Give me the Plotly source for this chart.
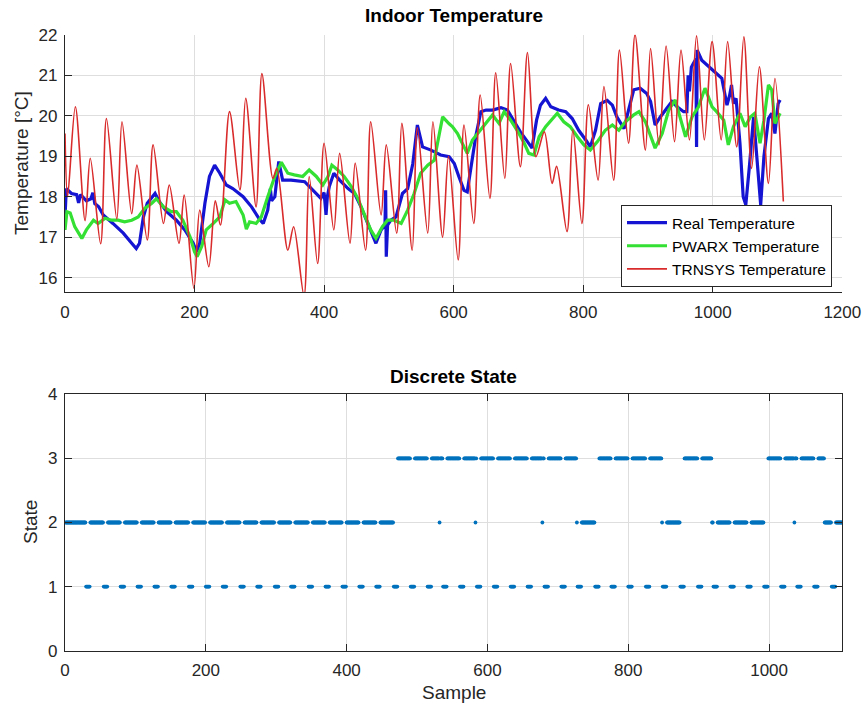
import plotly.graph_objects as go

# ---------------- data ----------------
real_x = [0, 2, 10, 18, 21, 24, 33, 40, 43, 46, 52, 59, 74, 90, 103, 110, 115, 121, 127, 133,
          139, 146, 157, 172, 185, 198, 203, 208, 216, 223, 231, 239, 249, 259, 275, 288, 300,
          306, 313, 317, 319, 324, 330, 336, 349, 370, 383, 395, 400, 403, 405, 408, 415, 424,
          437, 447, 457, 470, 480, 488, 494, 495, 496, 498, 503, 511, 521, 529, 537, 544, 552,
          565, 580, 593, 601, 608, 616, 621, 626, 634, 642, 650, 660, 673, 683, 691, 703, 714,
          721, 728, 734, 742, 750, 762, 773, 783, 793, 804, 811, 819, 827, 837, 845, 852, 863,
          870, 878, 888, 898, 904, 911, 919, 929, 937, 945, 955, 960, 962, 964, 967, 970, 974,
          975, 976, 983, 994, 1004, 1014, 1022, 1026, 1029, 1032, 1036, 1042, 1047, 1051, 1057,
          1063, 1068, 1074, 1079, 1086, 1091, 1096, 1101, 1104]
real_y = [17.5, 18.2, 18.08, 18.05, 17.85, 18.05, 17.9, 17.95, 18.1, 17.83, 17.75, 17.55, 17.34,
          17.1, 16.85, 16.72, 16.85, 17.5, 17.84, 17.95, 18.08, 17.87, 17.63, 17.42, 17.18, 16.85,
          16.64, 16.85, 17.84, 18.5, 18.78, 18.58, 18.29, 18.2, 18.0, 17.75, 17.45, 17.34, 17.67,
          18.2, 17.9, 18.0, 18.87, 18.41, 18.41, 18.37, 18.16, 17.96, 18.1, 17.55, 18.0, 18.25,
          18.58, 18.41, 18.2, 18.08, 17.75, 17.26, 16.85, 17.18, 17.3, 18.16, 16.52, 17.3, 17.42,
          17.5, 18.08, 18.2, 18.82, 19.77, 19.23, 19.15, 19.03, 18.99, 18.82, 18.5, 18.16, 18.12,
          18.66, 19.48, 20.1, 20.14, 20.14, 20.2, 20.14, 19.93, 19.6, 19.36, 19.2, 19.89, 20.26,
          20.43, 20.22, 20.14, 20.1, 19.93, 19.64, 19.4, 19.23, 19.64, 20.3, 20.38, 20.26, 19.97,
          19.68, 20.14, 20.64, 20.68, 20.55, 20.35, 19.77, 19.97, 20.18, 20.35, 20.22, 20.1, 20.1,
          21.0, 20.6, 21.2, 21.29, 21.4, 19.23, 21.62, 21.37, 21.21, 21.09, 20.92, 20.26, 20.5,
          20.76, 20.3, 20.43, 19.32, 18.0, 17.8, 18.82, 19.97, 18.99, 17.8, 18.99, 19.93, 20.06,
          19.56, 20.3, 20.39]

pwarx_x = [0, 3, 8, 15, 26, 33, 44, 51, 62, 72, 82, 92, 103, 113, 123, 134, 141, 152, 164, 172,
           182, 193, 200, 204, 211, 218, 229, 239, 247, 254, 264, 275, 280, 285, 295, 303, 313,
           324, 334, 344, 354, 367, 377, 388, 398, 406, 412, 421, 431, 442, 452, 462, 472, 480,
           490, 498, 508, 519, 529, 539, 549, 560, 570, 578, 583, 593, 598, 606, 616, 621, 629,
           639, 650, 660, 670, 678, 688, 698, 709, 716, 724, 732, 742, 752, 760, 770, 780, 791,
           801, 811, 822, 834, 845, 855, 865, 878, 886, 896, 904, 911, 922, 932, 942, 950, 958,
           968, 978, 988, 999, 1006, 1017, 1024, 1032, 1042, 1050, 1058, 1065, 1073, 1079, 1086,
           1091, 1096, 1101, 1104]
pwarx_y = [17.18, 17.63, 17.6, 17.26, 16.97, 17.18, 17.42, 17.34, 17.47, 17.42, 17.42, 17.38,
           17.42, 17.5, 17.71, 17.84, 17.95, 17.75, 17.63, 17.63, 17.42, 17.01, 16.64, 16.52,
           16.77, 17.18, 17.34, 17.5, 17.92, 17.84, 17.88, 17.55, 17.2, 17.38, 17.34, 17.5, 18.0,
           18.5, 18.85, 18.58, 18.54, 18.5, 18.66, 18.5, 18.29, 18.5, 18.78, 18.66, 18.5, 18.25,
           17.96, 17.55, 17.18, 16.97, 17.26, 17.42, 17.42, 17.34, 17.67, 18.08, 18.58, 18.78,
           18.9, 19.56, 19.97, 19.8, 19.73, 19.56, 19.23, 19.07, 19.4, 19.6, 19.85, 20.02, 19.81,
           20.1, 19.89, 19.64, 19.32, 19.07, 19.03, 19.48, 19.73, 19.93, 20.06, 19.85, 19.73,
           19.48, 19.28, 19.15, 19.36, 19.64, 19.77, 19.64, 19.85, 20.02, 20.1, 19.85, 19.48,
           19.2, 19.56, 20.14, 20.39, 19.93, 19.48, 19.97, 20.22, 20.68, 20.22, 20.1, 19.89,
           19.28, 19.73, 20.06, 19.73, 19.97, 20.06, 19.32, 19.89, 20.76, 20.64, 19.81, 19.97,
           20.06]

trnsys_x = [0, 4, 16, 31, 39, 55, 64, 80, 88, 103, 111, 127, 136, 152, 161, 176, 184, 199, 208,
            222, 232, 240, 254, 270, 279, 295, 304, 321, 327, 344, 353, 369, 377, 390, 400, 415,
            424, 440, 448, 464, 472, 488, 496, 512, 520, 536, 544, 560, 568, 583, 592, 607, 616,
            631, 641, 656, 665, 679, 688, 703, 714, 727, 740, 752, 759, 775, 784, 798, 808, 823,
            832, 847, 856, 870, 880, 896, 904, 917, 928, 941, 951, 964, 975, 987, 999, 1013,
            1023, 1037, 1048, 1060, 1072, 1086, 1096, 1109]
trnsys_y = [19.56, 18.0, 20.22, 17.41, 18.95, 16.84, 19.93, 17.45, 19.85, 17.58, 18.78, 16.93,
            19.28, 17.34, 18.29, 16.85, 18.04, 15.74, 17.67, 16.27, 17.9, 17.3, 20.1, 18.17,
            20.43, 17.75, 21.04, 18.45, 18.7, 16.68, 17.26, 15.55, 18.5, 16.35, 19.32, 17.18,
            19.07, 16.85, 18.83, 16.68, 19.85, 17.55, 19.28, 17.1, 19.81, 16.68, 19.7, 17.1,
            19.85, 17.0, 19.0, 16.44, 19.77, 17.34, 20.51, 17.96, 21.06, 18.45, 21.29, 18.74,
            21.56, 18.99, 19.6, 18.33, 18.75, 17.14, 19.65, 17.34, 20.27, 18.41, 20.72, 18.41,
            21.62, 19.32, 22.0, 19.15, 21.66, 19.28, 21.72, 19.36, 21.62, 19.4, 21.97, 19.4,
            21.83, 19.4, 21.83, 19.23, 21.95, 18.7, 21.21, 18.33, 20.92, 17.88]

# discrete state: sample count, state-1 runs, state-3 segments, isolated state-2 samples
n_samples = 1104
state1_starts = [30, 55, 79, 103, 127, 151, 176, 200, 224, 249, 273, 298, 321, 346, 370, 394,
                 418, 442, 467, 491, 515, 537, 561, 585, 609, 633, 657, 681, 705, 728, 753, 776,
                 800, 825, 849, 874, 899, 921, 945, 969, 993, 1017, 1040, 1064, 1089]
state1_len = 6
state3_segments = [(470, 726), (759, 847), (878, 918), (998, 1078)]
state2_points = [532, 583, 678, 1036]

samples = list(range(1, n_samples + 1))
state = {s: 2 for s in samples}
for a, b in state3_segments:
    for s in range(a, b + 1):
        state[s] = 3
for s in state2_points:
    state[s] = 2
for a in state1_starts:
    for s in range(a, a + state1_len):
        if s in state:
            state[s] = 1
state_vals = [state[s] for s in samples]

# ---------------- figure ----------------
W, H = 867, 709
FONT = "Liberation Sans, Arial, sans-serif"
AX = "#262626"
GRID = "#dedede"

def px_x(p):
    return p / W

def px_y(p):
    return 1 - p / H

fig = go.Figure()
fig.add_trace(go.Scatter(x=real_x, y=real_y, mode="lines", name="Real Temperature",
                         line=dict(color="#1414d2", width=3.2), xaxis="x", yaxis="y"))
fig.add_trace(go.Scatter(x=pwarx_x, y=pwarx_y, mode="lines", name="PWARX Temperature",
                         line=dict(color="#33e033", width=3.2), xaxis="x", yaxis="y"))
fig.add_trace(go.Scatter(x=trnsys_x, y=trnsys_y, mode="lines", name="TRNSYS Temperature",
                         line=dict(color="#d92b2b", width=1.6, shape="spline", smoothing=0.9),
                         xaxis="x", yaxis="y"))
fig.add_trace(go.Scatter(x=samples, y=state_vals, mode="markers", name="State", showlegend=False,
                         marker=dict(color="#0072BD", size=3.8, line=dict(width=0)),
                         xaxis="x2", yaxis="y2"))

common = dict(showline=True, linecolor=AX, linewidth=1.2, ticks="inside", ticklen=7,
              tickcolor=AX, tickwidth=1, showgrid=True, gridcolor=GRID, gridwidth=1,
              zeroline=False, automargin=False,
              tickfont=dict(family=FONT, size=17, color=AX))

xd = [px_x(65), px_x(842.3)]
fig.update_layout(
    width=W, height=H,
    margin=dict(l=0, r=0, t=0, b=0, autoexpand=False),
    paper_bgcolor="white", plot_bgcolor="white",
    showlegend=True,
    xaxis=dict(domain=xd, range=[0, 1200], tickvals=[0, 200, 400, 600, 800, 1000, 1200],
               anchor="y", ticklabelstandoff=4, **common),
    yaxis=dict(domain=[px_y(292.3), px_y(34.7)], range=[15.64, 22],
               tickvals=[16, 17, 18, 19, 20, 21, 22], anchor="x", ticklabelstandoff=3, **common),
    xaxis2=dict(domain=xd, range=[0, 1104], tickvals=[0, 200, 400, 600, 800, 1000],
                anchor="y2", mirror="ticks", ticklabelstandoff=4, **common),
    yaxis2=dict(domain=[px_y(650.7), px_y(394.3)], range=[0, 4], tickvals=[0, 1, 2, 3, 4],
                anchor="x2", mirror="ticks", ticklabelstandoff=3, **common),
    legend=dict(x=px_x(832), y=px_y(205), xanchor="right", yanchor="top",
                bgcolor="white", bordercolor=AX, borderwidth=1,
                font=dict(family=FONT, size=15.5, color="#000000"),
                tracegroupgap=0, itemwidth=40),
    annotations=[
        dict(text="<b>Indoor Temperature</b>", x=px_x(453.5), y=px_y(16), xref="paper",
             yref="paper", showarrow=False, xanchor="center", yanchor="middle",
             font=dict(family=FONT, size=19, color="#000000")),
        dict(text="<b>Discrete State</b>", x=px_x(453.5), y=px_y(377), xref="paper",
             yref="paper", showarrow=False, xanchor="center", yanchor="middle",
             font=dict(family=FONT, size=19, color="#000000")),
        dict(text="Temperature [°C]", x=px_x(22), y=px_y(163), xref="paper", yref="paper",
             showarrow=False, textangle=-90, xanchor="center", yanchor="middle",
             font=dict(family=FONT, size=19, color=AX)),
        dict(text="State", x=px_x(30), y=px_y(522), xref="paper", yref="paper",
             showarrow=False, textangle=-90, xanchor="center", yanchor="middle",
             font=dict(family=FONT, size=19, color=AX)),
        dict(text="Sample", x=px_x(453.5), y=px_y(692), xref="paper", yref="paper",
             showarrow=False, xanchor="center", yanchor="middle",
             font=dict(family=FONT, size=19, color=AX)),
    ],
)

fig.write_html("out.html")
